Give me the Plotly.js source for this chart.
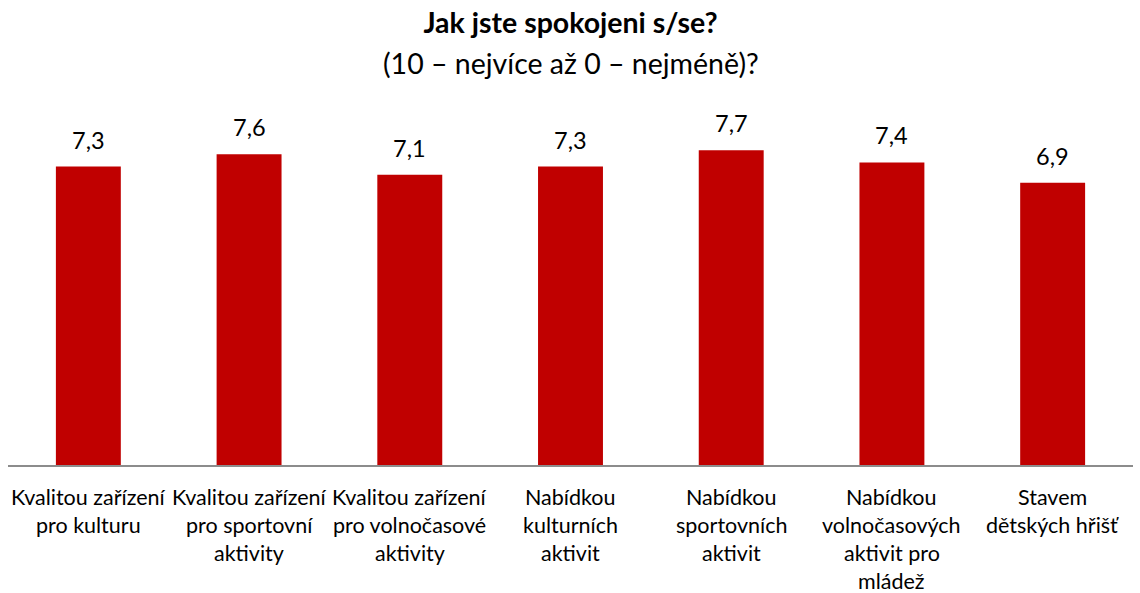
<!DOCTYPE html>
<html>
<head>
<meta charset="utf-8">
<script src="https://cdn.plot.ly/plotly-3.0.1.min.js"></script>
<style>html,body{margin:0;padding:0;background:#fff;}#chart{width:1140px;height:593px;}</style>
</head>
<body>
<div id="chart"></div>
<script>
const categories = [
  "Kvalitou zařízení<br>pro kulturu",
  "Kvalitou zařízení<br>pro sportovní<br>aktivity",
  "Kvalitou zařízení<br>pro volnočasové<br>aktivity",
  "Nabídkou<br>kulturních<br>aktivit",
  "Nabídkou<br>sportovních<br>aktivit",
  "Nabídkou<br>volnočasových<br>aktivit pro<br>mládež",
  "Stavem<br>dětských hřišť"
];
const values = [7.3, 7.6, 7.1, 7.3, 7.7, 7.4, 6.9];
const titleLine1 = "Jak jste spokojeni s/se?";
const titleLine2 = "(10 – nejvíce až 0 – nejméně)?";

const FONT = "Lato, 'Open Sans', sans-serif";
const fmt = v => v.toFixed(1).replace('.', ',');

const annotations = [];
values.forEach((v, i) => {
  annotations.push({
    x: categories[i], y: v, xref: 'x', yref: 'y',
    text: fmt(v), showarrow: false, yanchor: 'bottom', yshift: 11,
    font: {family: FONT, size: 23.5, color: '#000'}
  });
});
categories.forEach((c) => {
  c.split('<br>').forEach((line, j) => {
    annotations.push({
      x: c, y: 0, xref: 'x', yref: 'paper',
      text: line, showarrow: false, yanchor: 'middle', yshift: -32 - 28 * j,
      font: {family: FONT, size: 21.5, color: '#000'}
    });
  });
});
annotations.push({
  x: 0.5, y: 1.092, xref: 'paper', yref: 'paper', text: titleLine2,
  showarrow: false, yanchor: 'middle',
  font: {family: FONT, size: 28.5, color: '#000'}
});

const trace = {
  type: 'bar', x: categories, y: values,
  marker: {color: '#C00000'},
  hoverinfo: 'skip'
};

const layout = {
  width: 1140, height: 593,
  margin: {l: 8, r: 7, t: 97, b: 128},
  paper_bgcolor: '#fff', plot_bgcolor: '#fff',
  bargap: 0.596,
  showlegend: false,
  title: {
    text: '<b>' + titleLine1 + '</b>',
    x: 0.5, xanchor: 'center', xref: 'paper',
    y: 1 - 23 / 593, yref: 'container', yanchor: 'middle',
    font: {family: FONT, size: 28.5, color: '#000'}
  },
  xaxis: {
    type: 'category', showticklabels: false, ticks: '',
    showline: true, linecolor: '#8c8c8c', linewidth: 2,
    showgrid: false, zeroline: false, fixedrange: true
  },
  yaxis: {
    range: [0, 9], visible: false, showgrid: false, zeroline: false, fixedrange: true
  },
  annotations: annotations
};

Plotly.newPlot('chart', [trace], layout, {displayModeBar: false, staticPlot: true});
</script>
</body>
</html>
